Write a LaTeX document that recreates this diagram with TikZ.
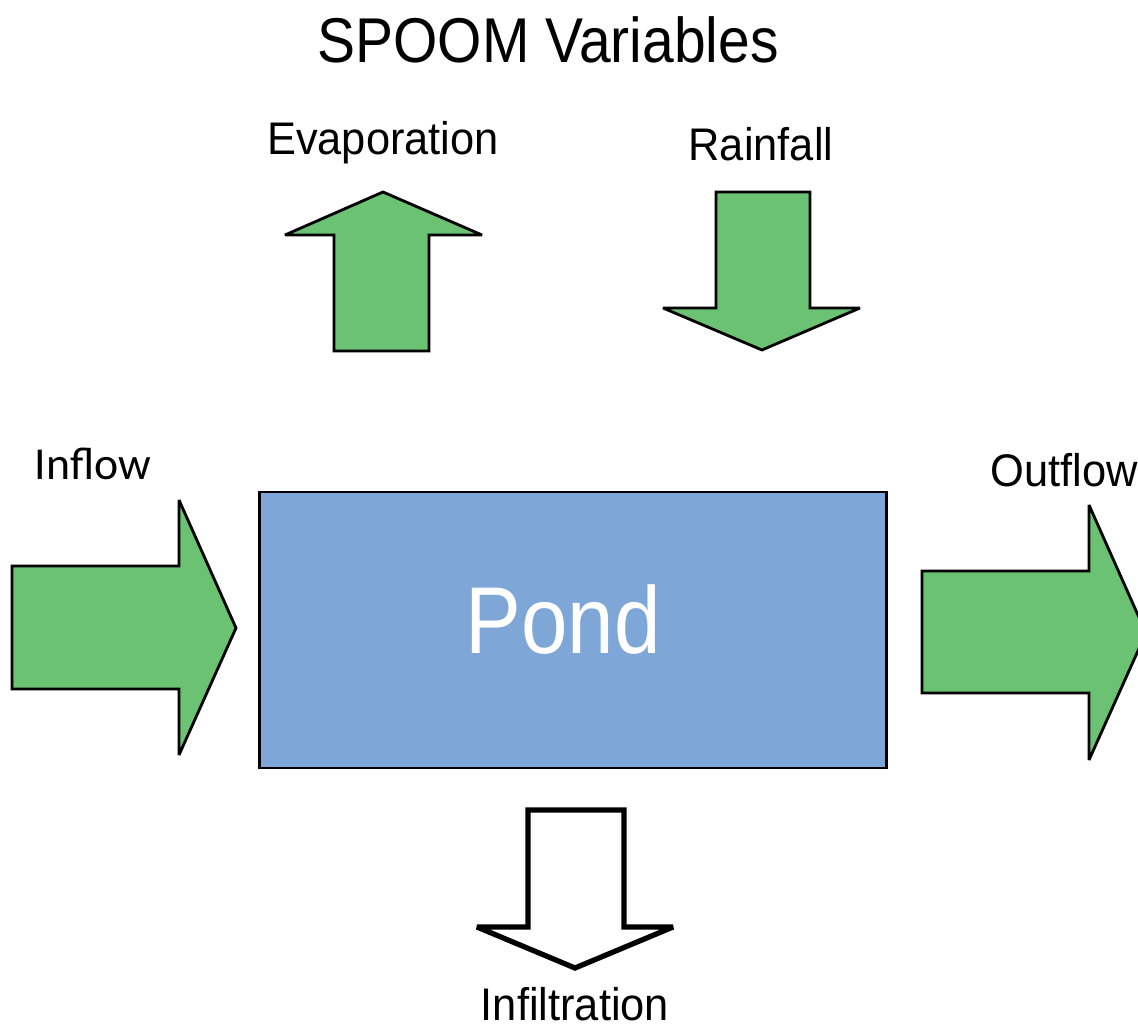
\documentclass[tikz,border=0pt]{standalone}
\usepackage{fontspec}
\setmainfont[FakeStretch=0.95]{Liberation Sans}
\newfontfamily\titlefont[FakeStretch=0.9]{Liberation Sans}
\newfontfamily\pondfont[FakeStretch=0.88]{Liberation Sans}
\newfontfamily\calib{Carlito}
\definecolor{flowgreen}{RGB}{108,194,115}
\definecolor{pondblue}{RGB}{126,167,216}
\tikzset{
  flow/.style={draw=black, fill=flowgreen, line width=0.8pt, line join=miter, miter limit=3},
  lbl/.style={anchor=base, inner sep=0pt, font=\fontsize{13}{15}\selectfont}
}

\begin{document}
\begin{tikzpicture}[x=0.01cm, y=-0.01cm]
\useasboundingbox (0,0) rectangle (1138,1027);
\clip (0,0) rectangle (1138,1027);
\node[lbl, font=\titlefont\fontsize{18}{21}\selectfont] (title) at (548,63) {SPOOM Variables};
% up and down arrows
\draw[flow] (383,192) -- (482,235) -- (429,235) -- (429,351) -- (334,351) -- (334,235) -- (285,235) -- cycle;
\draw[flow] (716,192) -- (810,192) -- (810,308) -- (860,308) -- (762,350) -- (663,308) -- (716,308) -- cycle;
\node[lbl] (evap) at (383,154) {Evaporation};
\node[lbl] (rain) at (761,160) {Rainfall};
% side arrows
\draw[flow] (12,566) -- (179,566) -- (179,500) -- (236,628) -- (179,755) -- (179,689) -- (12,689) -- cycle;
\draw[flow] (922,571) -- (1089,571) -- (1089,505) -- (1146,633) -- (1089,760) -- (1089,693) -- (922,693) -- cycle;
\node[lbl, font=\calib\fontsize{13}{15}\selectfont] (inflow) at (93,479) {Inflow};
\node[lbl, anchor=base west] (outflow) at (990,487) {Outflow};
\node[draw=black, fill=pondblue, line width=0.8pt, minimum width=6.26cm, minimum height=2.76cm] (pond) at (573,630) {};
\node[lbl, text=white, font=\pondfont\fontsize{27}{30}\selectfont] (pondtxt) at (563,653) {Pond};
\draw[fill=white, line width=1.5pt, line join=miter, miter limit=2] (528,810) -- (624,810) -- (624,927) -- (673,927) -- (575,968) -- (477,927) -- (528,927) -- cycle;
\node[lbl] (infil) at (575,1021) {Infiltration};
\end{tikzpicture}
\end{document}
